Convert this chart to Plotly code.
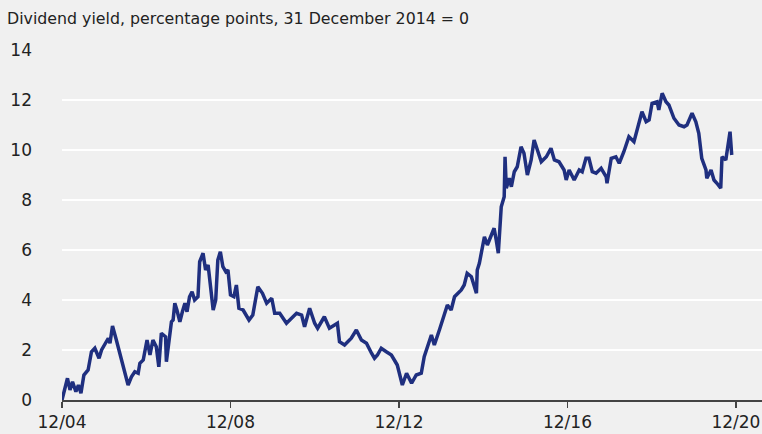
import pandas as pd
import plotly.graph_objects as go

# Decimal-year positions and values
years = [2005.00, 2005.07, 2005.13, 2005.19, 2005.25, 2005.33, 2005.39, 2005.45, 2005.52, 2005.62,
         2005.70, 2005.78, 2005.84, 2005.88, 2005.94, 2006.02, 2006.10, 2006.14, 2006.20, 2006.28,
         2006.37, 2006.47, 2006.57, 2006.65, 2006.73, 2006.81, 2006.85, 2006.93, 2007.02, 2007.09,
         2007.16, 2007.24, 2007.30, 2007.36, 2007.46, 2007.48, 2007.56, 2007.60, 2007.64, 2007.68,
         2007.73, 2007.80, 2007.86, 2007.92, 2007.97, 2008.03, 2008.09, 2008.15, 2008.23, 2008.27,
         2008.35, 2008.41, 2008.47, 2008.51, 2008.59, 2008.65, 2008.70, 2008.76, 2008.82, 2008.89,
         2008.94, 2009.00, 2009.08, 2009.14, 2009.20, 2009.30, 2009.38, 2009.44, 2009.53, 2009.60,
         2009.65, 2009.76,
         2009.86, 2009.98, 2010.05, 2010.17, 2010.33, 2010.45, 2010.57, 2010.69, 2010.76, 2010.88,
         2011.00, 2011.07, 2011.23, 2011.35, 2011.47, 2011.54, 2011.59, 2011.71, 2011.87, 2011.99,
         2012.11, 2012.23, 2012.35, 2012.42, 2012.49, 2012.58, 2012.70, 2012.82, 2012.89, 2012.96,
         2013.08, 2013.18, 2013.30, 2013.41, 2013.53, 2013.60, 2013.77, 2013.84, 2013.96, 2014.03,
         2014.15, 2014.24, 2014.32, 2014.48, 2014.55, 2014.62, 2014.72, 2014.84, 2014.86, 2014.91,
         2014.96, 2015.03, 2015.10, 2015.19, 2015.26, 2015.31, 2015.36, 2015.43, 2015.50, 2015.52,
         2015.55, 2015.62, 2015.67, 2015.74, 2015.81, 2015.90, 2015.97, 2016.05, 2016.14, 2016.21,
         2016.28, 2016.38, 2016.50, 2016.61, 2016.69, 2016.80, 2016.92, 2016.97, 2017.04, 2017.16,
         2017.28, 2017.35, 2017.44, 2017.51, 2017.59, 2017.68, 2017.80, 2017.92, 2017.94, 2018.04,
         2018.15, 2018.23, 2018.34, 2018.46, 2018.58, 2018.65, 2018.77, 2018.87, 2018.94, 2019.01,
         2019.13, 2019.17, 2019.25, 2019.34, 2019.41, 2019.53, 2019.65, 2019.77, 2019.84, 2019.96,
         2020.05, 2020.12, 2020.19, 2020.29, 2020.31, 2020.41, 2020.48, 2020.55, 2020.64, 2020.67,
         2020.76, 2020.86, 2020.90]

values = [0.00, 0.47, 0.87, 0.40, 0.73, 0.33, 0.60, 0.27, 1.00, 1.20,
          1.93, 2.07, 1.87, 1.67, 2.00, 2.27, 2.47, 2.27, 2.96, 2.47,
          1.87, 1.20, 0.60, 0.93, 1.13, 1.07, 1.47, 1.60, 2.40, 1.80,
          2.40, 2.13, 1.33, 2.67, 2.53, 1.53, 2.60, 3.13, 3.20, 3.87,
          3.60, 3.13, 3.53, 3.87, 3.53, 4.13, 4.33, 4.00, 4.13, 5.53,
          5.87, 5.20, 5.40, 4.87, 3.60, 4.00, 5.60, 5.93, 5.33, 5.13,
          5.20, 4.20, 4.13, 4.60, 3.67, 3.60, 3.33, 3.20, 3.40, 4.07,
          4.53, 4.27,
          3.87, 4.07, 3.47, 3.47, 3.07, 3.27, 3.47, 3.40, 2.93, 3.67,
          3.07, 2.87, 3.33, 2.87, 3.00, 3.07, 2.33, 2.20, 2.47, 2.80,
          2.40, 2.27, 1.87, 1.67, 1.80, 2.07, 1.93, 1.80, 1.60, 1.40,
          0.60, 1.07, 0.67, 1.00, 1.07, 1.73, 2.60, 2.20, 2.80, 3.13,
          3.80, 3.60, 4.13, 4.40, 4.60, 5.07, 4.93, 4.27, 5.20, 5.47,
          6.00, 6.53, 6.20, 6.53, 6.87, 6.40, 5.87, 7.73, 8.13, 9.73,
          8.47, 8.87, 8.53, 9.13, 9.33, 10.13, 9.87, 9.00, 9.60, 10.40,
          10.07, 9.53, 9.73, 10.07, 9.60, 9.53, 9.20, 8.80, 9.20, 8.80,
          9.20, 9.13, 9.67, 9.67, 9.13, 9.07, 9.27, 8.93, 8.67, 9.67,
          9.73, 9.47, 9.93, 10.53, 10.33, 10.73, 11.53, 11.13, 11.20, 11.87,
          11.93, 11.60, 12.27, 11.93, 11.80, 11.27, 11.00, 10.93, 11.00, 11.47,
          11.13, 10.67, 9.67, 9.20, 8.87, 9.20, 8.80, 8.67, 8.47, 9.73,
          9.60, 10.73, 9.80]

tick_dates = ["2005-01-01", "2009-01-01", "2013-01-01", "2017-01-01", "2021-01-01"]
tick_labels = ["12/04", "12/08", "12/12", "12/16", "12/20"]
y_ticks = [0, 2, 4, 6, 8, 10, 12, 14]


def to_date(y):
    yr = int(y)
    start = pd.Timestamp(year=yr, month=1, day=1)
    end = pd.Timestamp(year=yr + 1, month=1, day=1)
    return start + (end - start) * (y - yr)


dates = [to_date(y) for y in years]

FONT = "DejaVu Sans, Verdana, sans-serif"
BG = "#f0f0f0"

fig = go.Figure()
fig.add_trace(go.Scatter(
    x=dates, y=values, mode="lines",
    line=dict(color="#1f2f7f", width=3.5),
    hoverinfo="skip", showlegend=False,
))

fig.update_layout(
    width=762, height=434,
    margin=dict(l=62, r=0, t=50, b=34),
    paper_bgcolor=BG, plot_bgcolor=BG,
    font=dict(family=FONT, size=16, color="#222222"),
    xaxis=dict(
        type="date", automargin=False,
        range=["2005-01-01", "2021-08-15"],
        tickvals=tick_dates, ticktext=tick_labels,
        showgrid=False, zeroline=False,
        showline=True, linecolor="#444444", linewidth=1.5,
        ticks="outside", ticklen=6, tickwidth=1.5, tickcolor="#444444",
        tickfont=dict(size=17),
    ),
    yaxis=dict(
        range=[0, 14], automargin=False,
        tickvals=y_ticks,
        showgrid=True, gridcolor="#ffffff", gridwidth=2,
        zeroline=False, showline=False,
        ticks="", ticklabelstandoff=29,
        tickfont=dict(size=17),
    ),
    annotations=[dict(
        text="Dividend yield, percentage points, 31 December 2014 = 0",
        xref="paper", yref="paper",
        x=-57 / 700, y=1 + 32 / 350,
        xanchor="left", yanchor="middle",
        showarrow=False, font=dict(size=15.8),
    )],
)

fig.write_html(
    "out.html",
    config={"displayModeBar": False, "staticPlot": True},
    post_script="document.body.style.margin='0';document.body.style.background='#f0f0f0';",
)
